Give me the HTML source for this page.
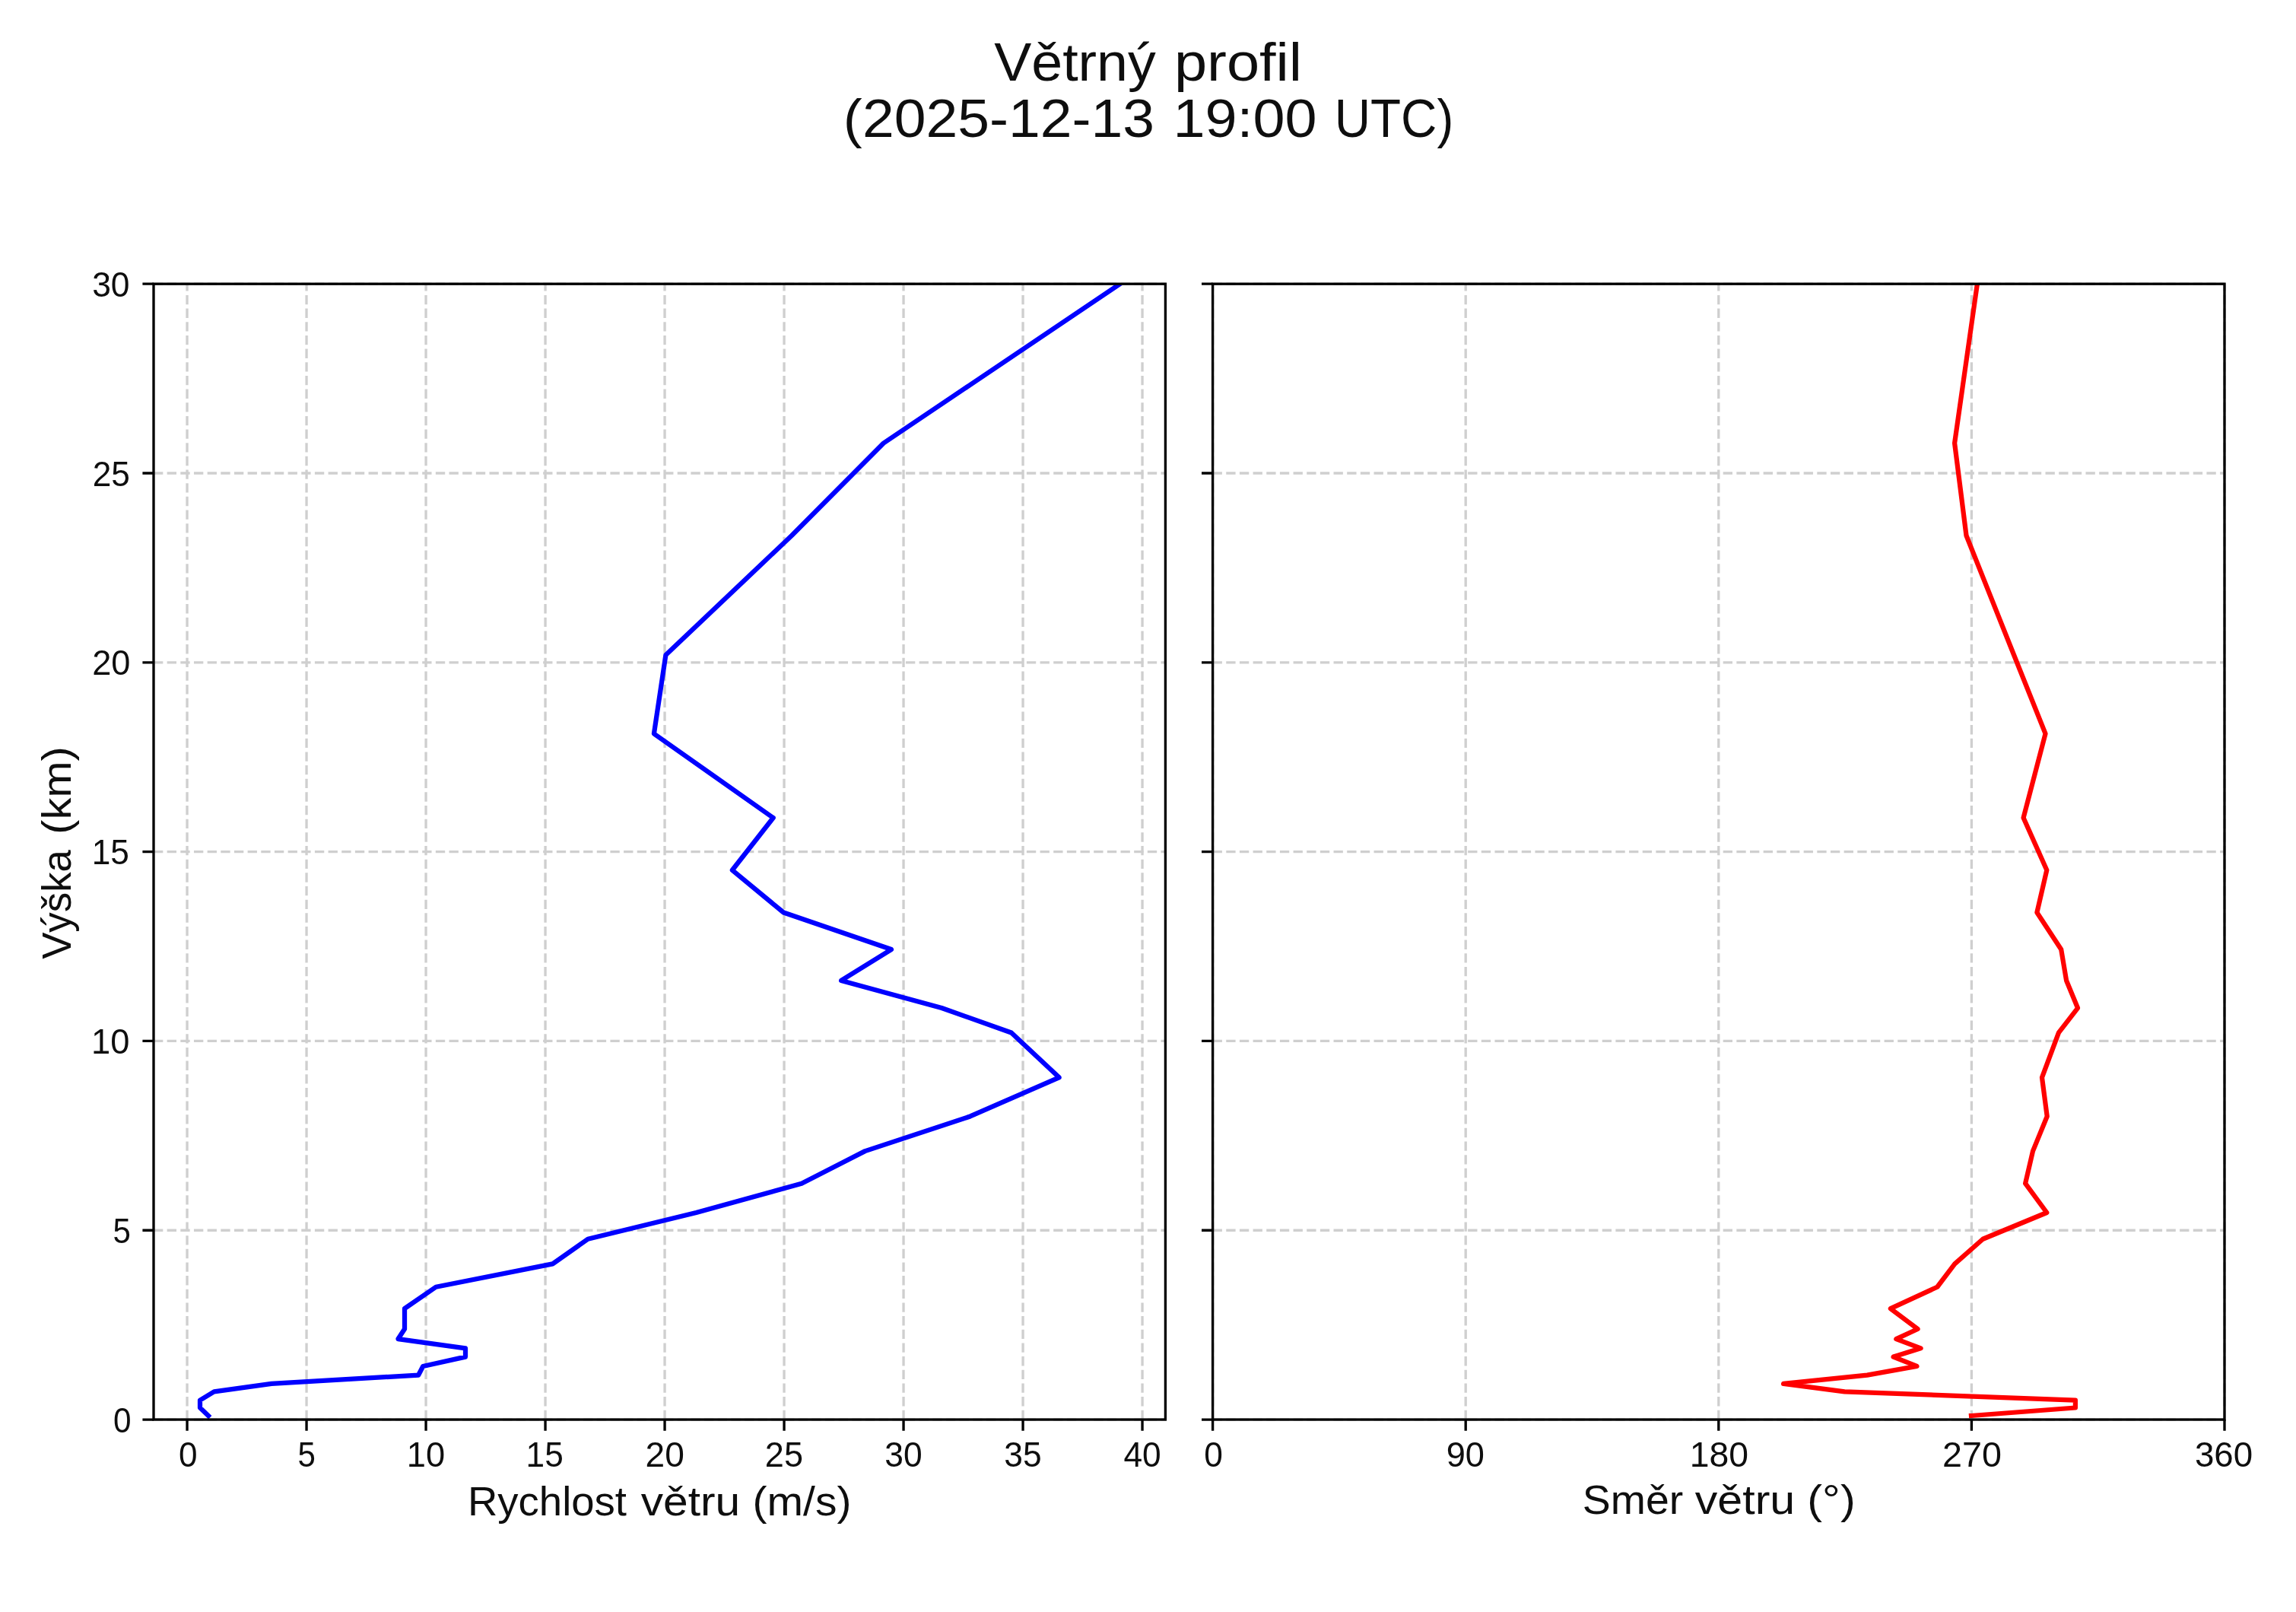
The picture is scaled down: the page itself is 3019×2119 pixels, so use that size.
<!DOCTYPE html>
<html><head><meta charset="utf-8"><title>Větrný profil</title>
<style>html,body{margin:0;padding:0;background:#fff;}svg{display:block;will-change:transform;}text{font-family:"Liberation Sans",sans-serif;fill:#0e0e0e;}</style></head><body>
<svg width="3019" height="2119" viewBox="0 0 3019 2119">
<rect x="0" y="0" width="3019" height="2119" fill="#fff"/>
<defs>
<clipPath id="cL"><rect x="202" y="373.2" width="1330.4" height="1492.85"/></clipPath>
<clipPath id="cR"><rect x="1594.6" y="373.2" width="1330.4" height="1492.85"/></clipPath>
</defs>
<g stroke="#cfcfcf" stroke-width="3.33" stroke-dasharray="12.33 5.33" fill="none"><line x1="246.05" y1="1866.05" x2="246.05" y2="373.2"/><line x1="403.05" y1="1866.05" x2="403.05" y2="373.2"/><line x1="560.05" y1="1866.05" x2="560.05" y2="373.2"/><line x1="717.05" y1="1866.05" x2="717.05" y2="373.2"/><line x1="874.05" y1="1866.05" x2="874.05" y2="373.2"/><line x1="1031.05" y1="1866.05" x2="1031.05" y2="373.2"/><line x1="1188.05" y1="1866.05" x2="1188.05" y2="373.2"/><line x1="1345.05" y1="1866.05" x2="1345.05" y2="373.2"/><line x1="1502.05" y1="1866.05" x2="1502.05" y2="373.2"/><line x1="1594.6" y1="1866.05" x2="1594.6" y2="373.2"/><line x1="1927.2" y1="1866.05" x2="1927.2" y2="373.2"/><line x1="2259.8" y1="1866.05" x2="2259.8" y2="373.2"/><line x1="2592.4" y1="1866.05" x2="2592.4" y2="373.2"/><line x1="2925" y1="1866.05" x2="2925" y2="373.2"/><line x1="202" y1="1866.05" x2="1532.4" y2="1866.05"/><line x1="1594.6" y1="1866.05" x2="2925" y2="1866.05"/><line x1="202" y1="1617.24" x2="1532.4" y2="1617.24"/><line x1="1594.6" y1="1617.24" x2="2925" y2="1617.24"/><line x1="202" y1="1368.43" x2="1532.4" y2="1368.43"/><line x1="1594.6" y1="1368.43" x2="2925" y2="1368.43"/><line x1="202" y1="1119.62" x2="1532.4" y2="1119.62"/><line x1="1594.6" y1="1119.62" x2="2925" y2="1119.62"/><line x1="202" y1="870.82" x2="1532.4" y2="870.82"/><line x1="1594.6" y1="870.82" x2="2925" y2="870.82"/><line x1="202" y1="622.01" x2="1532.4" y2="622.01"/><line x1="1594.6" y1="622.01" x2="2925" y2="622.01"/><line x1="202" y1="373.2" x2="1532.4" y2="373.2"/><line x1="1594.6" y1="373.2" x2="2925" y2="373.2"/></g>
<g clip-path="url(#cL)"><polyline points="274,1861 263,1850.5 263,1840.55 281.5,1829.35 357,1818.95 550.2,1807.55 556.2,1795.95 612,1783.6 612,1772.3 523.5,1760.05 532,1747 532,1720.15 573.2,1691.75 726.7,1661.4 773,1628.75 915.5,1594 1054,1555.7 1137.5,1513.15 1275.7,1467.45 1392.6,1416.3 1329.8,1357.45 1238.2,1325.05 1106.1,1288.95 1172,1248.05 1030.3,1199.5 962.9,1143.8 1016.7,1075.05 859.9,964.45 875.4,861 1041,704 1161.8,582.5 1472.7,373.2" fill="none" stroke="#0000ff" stroke-width="6.25" stroke-linejoin="round" stroke-linecap="square"/></g>
<g clip-path="url(#cR)"><polyline points="2592,1861 2728.9,1850.5 2728.9,1840.55 2425.4,1829.35 2345.1,1818.95 2455.1,1807.55 2520.5,1795.95 2489.6,1783.6 2525.6,1772.3 2493.3,1760.05 2521.6,1747 2485.9,1720.15 2547.3,1691.75 2570.3,1661.4 2607.3,1628.75 2691.3,1594 2663.1,1555.7 2673,1513.15 2691.7,1467.45 2685,1416.3 2707,1357.45 2732,1325.05 2717.1,1288.95 2710.2,1248.05 2678.4,1199.5 2691.3,1143.8 2660.6,1075.05 2689.5,964.45 2648.1,861 2585.5,704 2570.1,582.5 2599.9,373.2" fill="none" stroke="#ff0000" stroke-width="6.25" stroke-linejoin="round" stroke-linecap="square"/></g>
<g fill="none" stroke="#000" stroke-width="3.33" stroke-linecap="square">
<rect x="202" y="373.2" width="1330.4" height="1492.85"/>
<rect x="1594.6" y="373.2" width="1330.4" height="1492.85"/>
</g>
<path d="M246.05 1866.05v14.58M403.05 1866.05v14.58M560.05 1866.05v14.58M717.05 1866.05v14.58M874.05 1866.05v14.58M1031.05 1866.05v14.58M1188.05 1866.05v14.58M1345.05 1866.05v14.58M1502.05 1866.05v14.58M1594.6 1866.05v14.58M1927.2 1866.05v14.58M2259.8 1866.05v14.58M2592.4 1866.05v14.58M2925 1866.05v14.58M202 1866.05h-14.58M1594.6 1866.05h-14.58M202 1617.24h-14.58M1594.6 1617.24h-14.58M202 1368.43h-14.58M1594.6 1368.43h-14.58M202 1119.62h-14.58M1594.6 1119.62h-14.58M202 870.82h-14.58M1594.6 870.82h-14.58M202 622.01h-14.58M1594.6 622.01h-14.58M202 373.2h-14.58M1594.6 373.2h-14.58" stroke="#000" stroke-width="3.33" fill="none"/>
<text x="247.15" y="1928.22" text-anchor="middle" font-size="46.3" textLength="24.54" lengthAdjust="spacingAndGlyphs">0</text>
<text x="403.19" y="1928.22" text-anchor="middle" font-size="45.6" textLength="23.37" lengthAdjust="spacingAndGlyphs">5</text>
<text x="560.01" y="1928.22" text-anchor="middle" font-size="46.3" textLength="50.32" lengthAdjust="spacingAndGlyphs">10</text>
<text x="716.2" y="1928.22" text-anchor="middle" font-size="45.6" textLength="49.17" lengthAdjust="spacingAndGlyphs">15</text>
<text x="874.27" y="1928.22" text-anchor="middle" font-size="46.3" textLength="51.31" lengthAdjust="spacingAndGlyphs">20</text>
<text x="1030.91" y="1928.22" text-anchor="middle" font-size="46.3" textLength="50.2" lengthAdjust="spacingAndGlyphs">25</text>
<text x="1187.95" y="1928.22" text-anchor="middle" font-size="46.3" textLength="49.38" lengthAdjust="spacingAndGlyphs">30</text>
<text x="1344.98" y="1928.22" text-anchor="middle" font-size="46.3" textLength="49.38" lengthAdjust="spacingAndGlyphs">35</text>
<text x="1502.13" y="1928.22" text-anchor="middle" font-size="46.3" textLength="49.31" lengthAdjust="spacingAndGlyphs">40</text>
<text x="172.6" y="1882.55" text-anchor="end" font-size="46.3" textLength="23.53" lengthAdjust="spacingAndGlyphs">0</text>
<text x="171.95" y="1633.74" text-anchor="end" font-size="45.6" textLength="23.37" lengthAdjust="spacingAndGlyphs">5</text>
<text x="170.37" y="1384.93" text-anchor="end" font-size="46.3" textLength="50.34" lengthAdjust="spacingAndGlyphs">10</text>
<text x="169.85" y="1136.12" text-anchor="end" font-size="45.6" textLength="49.17" lengthAdjust="spacingAndGlyphs">15</text>
<text x="171.5" y="887.32" text-anchor="end" font-size="46.3" textLength="50.22" lengthAdjust="spacingAndGlyphs">20</text>
<text x="170.92" y="638.51" text-anchor="end" font-size="46.3" textLength="49.18" lengthAdjust="spacingAndGlyphs">25</text>
<text x="170.56" y="389.7" text-anchor="end" font-size="46.3" textLength="49.38" lengthAdjust="spacingAndGlyphs">30</text>
<text x="1595.64" y="1928.22" text-anchor="middle" font-size="46.3" textLength="24.64" lengthAdjust="spacingAndGlyphs">0</text>
<text x="1926.75" y="1928.22" text-anchor="middle" font-size="46.3" textLength="50.22" lengthAdjust="spacingAndGlyphs">90</text>
<text x="2260.36" y="1928.22" text-anchor="middle" font-size="46.3" textLength="77.24" lengthAdjust="spacingAndGlyphs">180</text>
<text x="2593.02" y="1928.22" text-anchor="middle" font-size="46.3" textLength="77.94" lengthAdjust="spacingAndGlyphs">270</text>
<text x="2924.04" y="1928.22" text-anchor="middle" font-size="46.3" textLength="76.21" lengthAdjust="spacingAndGlyphs">360</text>
<text x="1413.5" y="105.8" text-anchor="middle" font-size="70.64" textLength="212.66" lengthAdjust="spacingAndGlyphs">Větrný</text>
<text x="1628" y="105.8" text-anchor="middle" font-size="70.64" textLength="168.16" lengthAdjust="spacingAndGlyphs">profil</text>
<text x="1313.5" y="180" text-anchor="middle" font-size="70.64" textLength="409.23" lengthAdjust="spacingAndGlyphs">(2025-12-13</text>
<text x="1637" y="180" text-anchor="middle" font-size="70.64" textLength="189.16" lengthAdjust="spacingAndGlyphs">19:00</text>
<text x="1833" y="180" text-anchor="middle" font-size="70.64" textLength="156.42" lengthAdjust="spacingAndGlyphs">UTC)</text>
<text x="719.5" y="1991.88" text-anchor="middle" font-size="52.98" textLength="209.05" lengthAdjust="spacingAndGlyphs">Rychlost</text>
<text x="908" y="1991.88" text-anchor="middle" font-size="52.98" textLength="130.44" lengthAdjust="spacingAndGlyphs">větru</text>
<text x="1054.5" y="1991.88" text-anchor="middle" font-size="52.98" textLength="129.87" lengthAdjust="spacingAndGlyphs">(m/s)</text>
<text x="2147" y="1989.98" text-anchor="middle" font-size="52.98" textLength="132.31" lengthAdjust="spacingAndGlyphs">Směr</text>
<text x="2294.5" y="1989.98" text-anchor="middle" font-size="52.98" textLength="131.47" lengthAdjust="spacingAndGlyphs">větru</text>
<text x="2408" y="1989.98" text-anchor="middle" font-size="52.98" textLength="63.37" lengthAdjust="spacingAndGlyphs">(°)</text>
<text transform="translate(92.84,1189) rotate(-90)" text-anchor="middle" font-size="52.98" textLength="143.74" lengthAdjust="spacingAndGlyphs">Výška</text>
<text transform="translate(92.84,1039) rotate(-90)" text-anchor="middle" font-size="52.98" textLength="115.34" lengthAdjust="spacingAndGlyphs">(km)</text>
</svg></body></html>
